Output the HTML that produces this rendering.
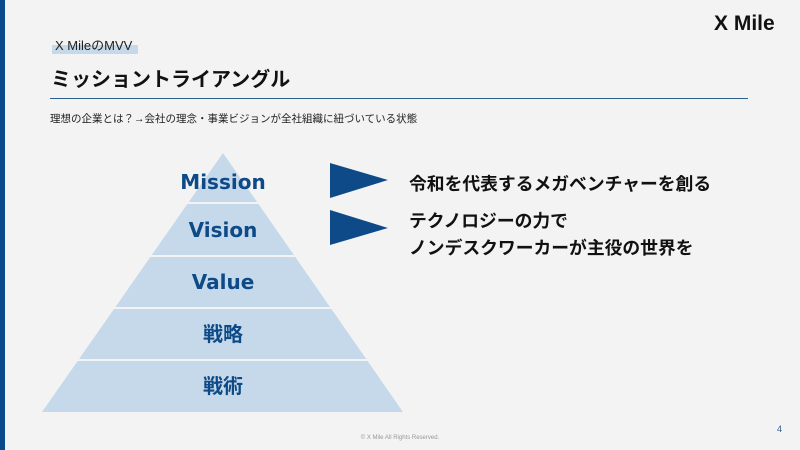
<!DOCTYPE html>
<html><head><meta charset="utf-8"><style>
body{margin:0;width:800px;height:450px;background:#f3f3f3;overflow:hidden;position:relative;font-family:"Liberation Sans","Noto Sans CJK JP",sans-serif}
.a{position:absolute;white-space:nowrap}
</style></head><body>
<div class="a" style="left:0;top:0;width:5px;height:450px;background:#0b4a8a"></div>
<div class="a" style="left:714px;top:12px;font-size:21px;font-weight:bold;color:#111">X Mile</div>
<div class="a" style="left:52px;top:45px;width:86px;height:9px;background:#c5d9ea"></div>
<div class="a" style="left:55px;top:35px;font-size:13px;color:#222">X MileのMVV</div>
<div class="a" style="left:51px;top:63px;font-size:20px;font-weight:bold;color:#111">ミッショントライアングル</div>
<div class="a" style="left:50px;top:98px;width:698px;height:1px;background:#2f5f8f"></div>
<div class="a" style="left:50px;top:111px;font-size:10.5px;color:#222">理想の企業とは？→会社の理念・事業ビジョンが全社組織に紐づいている状態</div>
<svg class="a" style="left:0;top:0" width="800" height="450">
<defs><clipPath id="t"><polygon points="223,153 403,412 42,412"/></clipPath></defs>
<g clip-path="url(#t)" fill="#c5d9ea">
<rect x="0" y="150" width="800" height="52"/>
<rect x="0" y="204" width="800" height="51"/>
<rect x="0" y="257" width="800" height="50"/>
<rect x="0" y="309" width="800" height="50"/>
<rect x="0" y="361" width="800" height="52"/>
</g>
<g fill="#0d4a87" font-family="'DejaVu Sans','Noto Sans CJK JP',sans-serif" font-weight="bold" font-size="20" text-anchor="middle">
<text x="223" y="189">Mission</text>
<text x="223" y="237">Vision</text>
<text x="223" y="289">Value</text>
<text x="223" y="341" font-family="'Noto Sans CJK JP',sans-serif">戦略</text>
<text x="223" y="393" font-family="'Noto Sans CJK JP',sans-serif">戦術</text>
</g>
<polygon points="330,163 388,180 330,198" fill="#0d4a87"/>
<polygon points="330,210 388,228 330,245" fill="#0d4a87"/>
</svg>
<div class="a" style="left:409px;top:170px;font-size:17.8px;font-weight:bold;color:#111">令和を代表するメガベンチャーを創る</div>
<div class="a" style="left:409px;top:208px;font-size:17.8px;font-weight:bold;color:#111;line-height:27px">テクノロジーの力で<br>ノンデスクワーカーが主役の世界を</div>
<div class="a" style="left:777px;top:424px;font-size:9px;color:#2f5f8f">4</div>
<div class="a" style="left:0;width:800px;text-align:center;top:435px;font-size:6px;color:#999">© X Mile All Rights Reserved.</div>
</body></html>
